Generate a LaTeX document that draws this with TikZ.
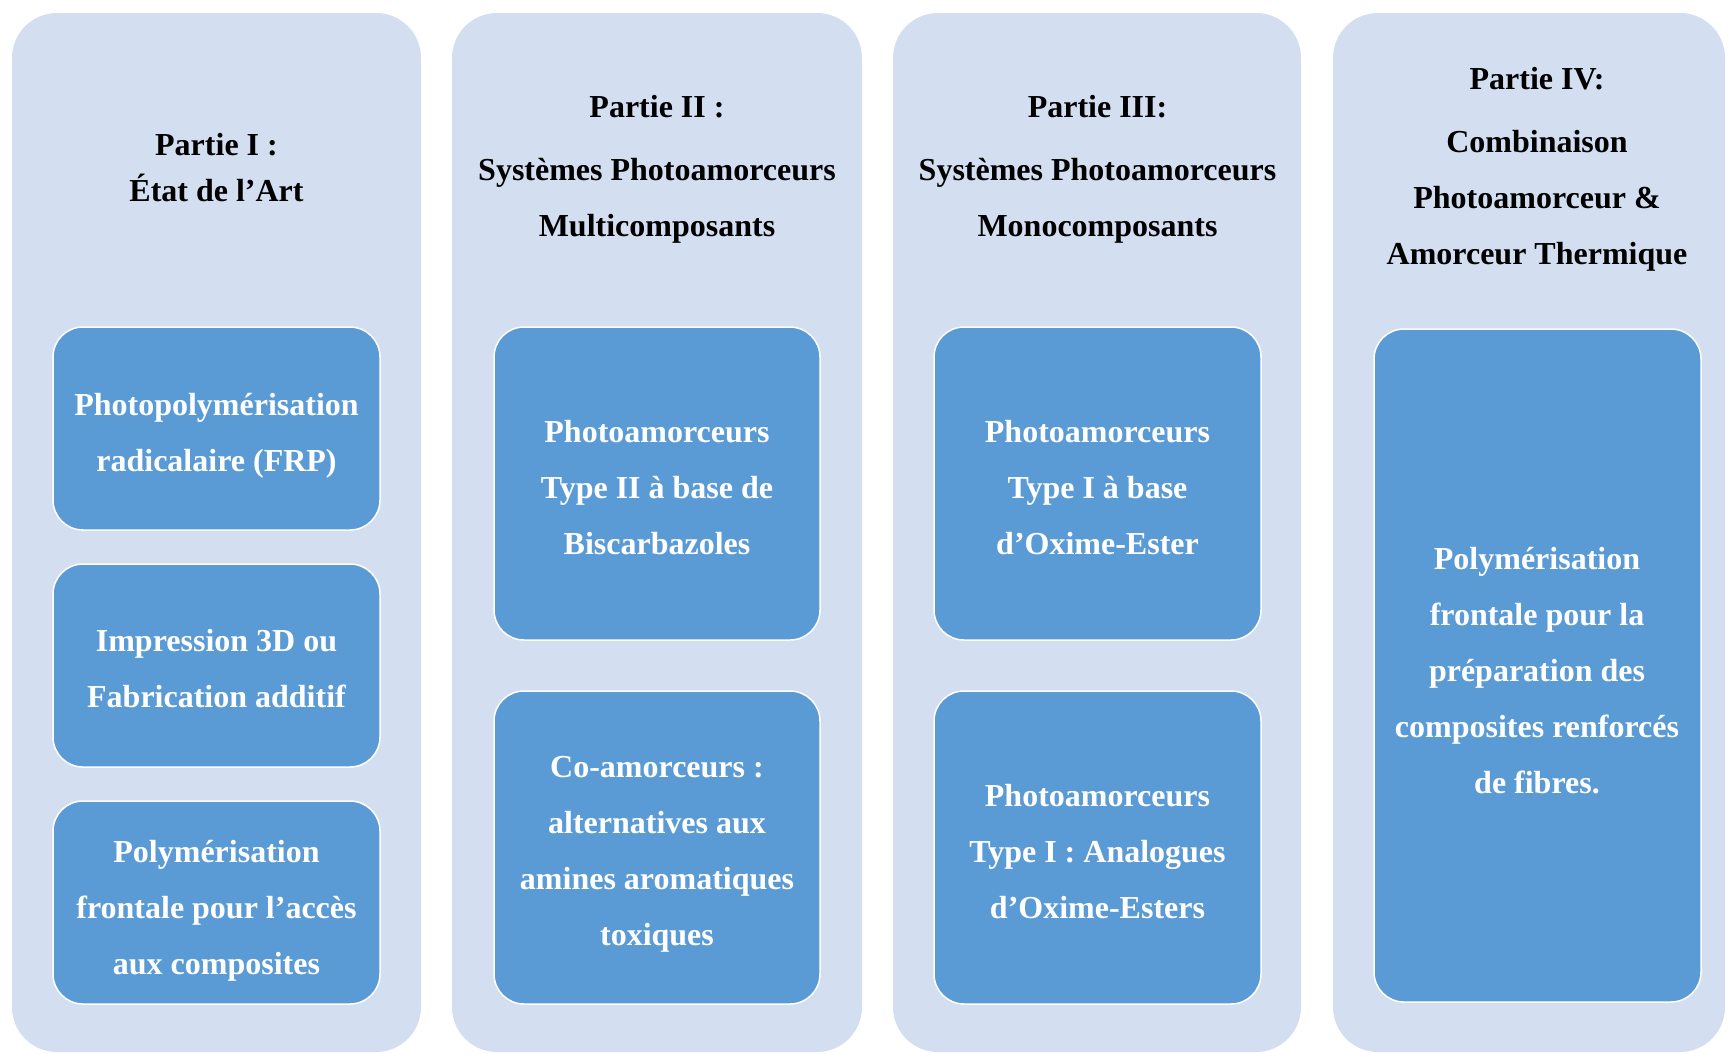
\documentclass[tikz,border=0pt]{standalone}
\usepackage{fontspec}
\setmainfont{Liberation Serif}
\definecolor{colbg}{HTML}{D3DEF0}
\definecolor{boxbg}{HTML}{5B9BD5}
\begin{document}
\begin{tikzpicture}[x=1pt,y=-1pt,
  column/.style={fill=colbg, draw=none, rounded corners=45pt},
  itembox/.style={fill=boxbg, draw=white, line width=1.5pt, rounded corners=30pt},
  title/.style={align=center, text=black, font=\bfseries\fontsize{32}{56}\selectfont},
  itemtext/.style={align=center, text=white, font=\bfseries\fontsize{32}{56}\selectfont}]
\useasboundingbox (0,0) rectangle (1728,1053);
% columns
\path[column] (12,13) rectangle (421,1052);
\path[column] (452,13) rectangle (862,1052);
\path[column] (893,13) rectangle (1301,1052);
\path[column] (1333,13) rectangle (1725,1052);
% column 1
\node[title, font=\bfseries\fontsize{32}{46}\selectfont] (t1) at (216.5,168) {Partie I :\\État de l’Art};
\path[itembox] (53,327) rectangle (380,530);
\node[itemtext] (b11) at (216.5,436) {Photopolymérisation\\radicalaire (FRP)};
\path[itembox] (53,564) rectangle (380,767);
\node[itemtext] (b12) at (216.5,669) {Impression 3D ou\\Fabrication additif};
\path[itembox] (53,801) rectangle (380,1004);
\node[itemtext] (b13) at (216.5,910.5) {Polymérisation\\frontale pour l’accès\\aux composites};
% column 2
\node[title] (t2) at (657,169) {Partie II :\\[7pt]Systèmes Photoamorceurs\\Multicomposants};
\path[itembox] (494,327) rectangle (820,640);
\node[itemtext] (b21) at (657,488) {Photoamorceurs\\Type II à base de\\Biscarbazoles};
\path[itembox] (494,691) rectangle (820,1004);
\node[itemtext] (b22) at (657,854.5) {Co-amorceurs :\\alternatives aux\\amines aromatiques\\toxiques};
% column 3
\node[title] (t3) at (1097.5,169) {Partie III:\\[7pt]Systèmes Photoamorceurs\\Monocomposants};
\path[itembox] (934,327) rectangle (1261,640);
\node[itemtext] (b31) at (1097.5,488) {Photoamorceurs\\Type I à base\\d’Oxime-Ester};
\path[itembox] (934,691) rectangle (1261,1004);
\node[itemtext] (b32) at (1097.5,852) {Photoamorceurs\\Type I : Analogues\\d’Oxime-Esters};
% column 4
\node[title] (t4) at (1537,169) {Partie IV:\\[7pt]Combinaison\\Photoamorceur \&\\Amorceur Thermique};
\path[itembox] (1374,329) rectangle (1701,1002);
\node[itemtext] (b41) at (1537,671) {Polymérisation\\frontale pour la\\préparation des\\composites renforcés\\de fibres.};
\end{tikzpicture}
\end{document}
